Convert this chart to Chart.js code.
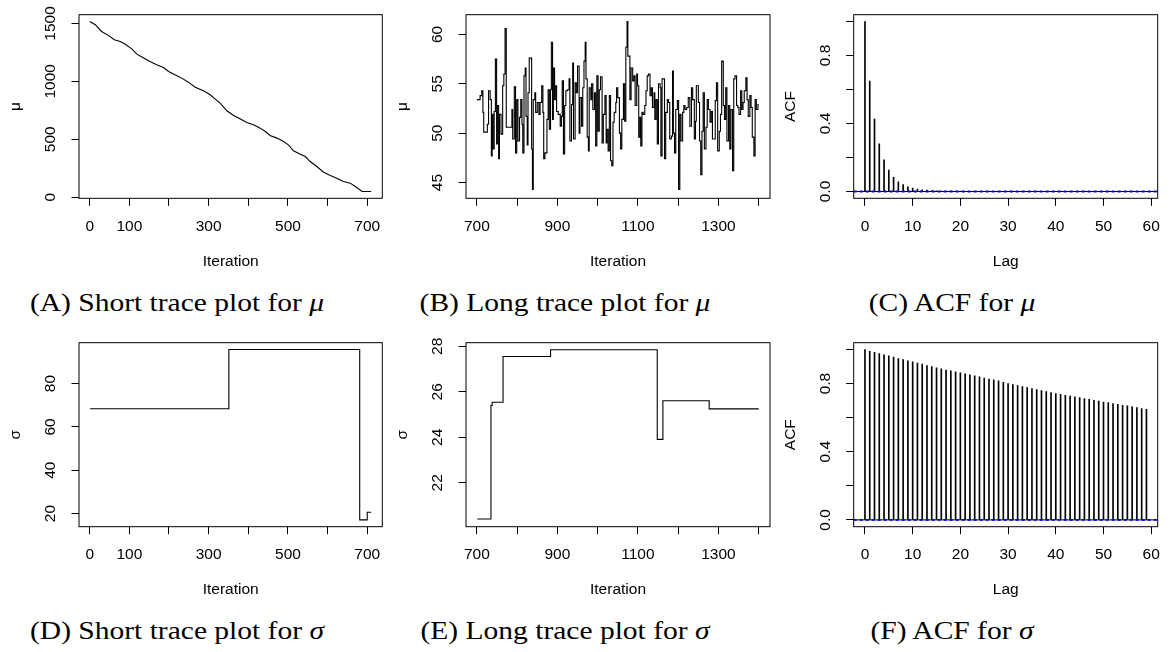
<!DOCTYPE html>
<html><head><meta charset="utf-8">
<script src="https://cdn.jsdelivr.net/npm/chart.js@4.4.1/dist/chart.umd.min.js"></script>
<style>
html,body{margin:0;padding:0;background:#fff;}
#wrap{position:relative;width:1170px;height:652px;overflow:hidden;background:#fff;}
canvas{position:absolute;}
.cap{position:absolute;font-family:"Liberation Serif","Times New Roman",serif;font-size:25px;line-height:1;white-space:nowrap;color:#000;transform:translate(-50%,-50%) scaleX(1.18);}
</style></head><body><div id="wrap"></div>
<script>
// ---------------- data ----------------
const muShortIter = [0,14,30,47,62,77,89,106,119,136,152,169,186,199,215,232,249,266,287,304,316,329,346,363,379,396,413,430,443,455,472,489,501,514,531,544,556,573,590,607,623,640,657,670,687,710];
const muShortVal  = [1517,1489,1431,1397,1359,1345,1322,1281,1235,1201,1172,1143,1120,1086,1057,1028,993,950,919,884,849,812,746,705,677,645,625,596,567,533,510,481,452,400,371,351,308,265,216,187,164,135,121,92,49,49];

const muLongIter = [
700,708,712,715,717,726,729,733,736,738,
740,743,746,749,751,754,756,760,764,767,
770,773,787,789,793,796,799,802,806,809,
812,814,817,820,822,825,827,830,836,838,
840,844,846,850,854,857,861,864,866,869,
874,877,880,883,885,888,890,893,896,898,
902,907,910,912,915,918,921,925,929,931,
935,938,940,944,947,950,954,956,960,963,
966,969,971,974,977,979,983,985,988,992,
995,998,1001,1004,1007,1011,1014,1018,1021,1023,
1026,1029,1032,1035,1038,1041,1045,1047,1050,1054,
1057,1060,1064,1067,1070,1073,1075,1080,1083,1087,
1090,1093,1097,1099,1102,1105,1107,1110,1113,1117,
1120,1123,1126,1130,1133,1136,1140,1142,1145,1148,
1151,1155,1157,1160,1166,1169,1173,1176,1179,1183,
1186,1188,1191,1194,1198,1201,1204,1207,1211,1214,
1217,1221,1225,1229,1233,1236,1240,1243,1245,1250,
1253,1256,1259,1262,1265,1269,1272,1275,1279,1282,
1285,1292,1295,1298,1302,1305,1308,1312,1315,1318,
1321,1325,1328,1331,1335,1338,1341,1345,1348,1351,
1355,1358,1361,1364,1368,1371,1374,1378,1381,1384,
1388,1391,1394,1398,1400];
const muLongVal = [
53.4,53.8,54.3,52.1,50.1,50.9,54.3,53.4,47.7,51.9,
48.4,52.2,57.5,48.9,52.8,47.4,51.9,49.9,54.8,56.0,
60.6,50.6,52.4,49.4,54.7,48.0,53.4,49.2,51.6,53.4,
50.9,48.0,55.8,56.6,51.7,48.8,54.1,57.6,48.4,44.3,
53.4,54.1,52.1,53.1,51.9,53.1,54.8,52.1,47.4,48.0,
51.4,54.4,50.4,54.4,59.2,51.4,56.6,53.4,54.8,52.2,
51.9,50.7,51.7,55.3,47.9,52.8,54.3,54.4,55.5,49.2,
52.9,57.1,49.4,55.1,54.1,56.8,50.0,53.6,50.7,54.6,
57.3,59.2,55.5,49.6,48.2,54.6,53.4,55.0,52.4,54.1,
48.7,55.8,50.2,54.4,55.7,49.0,51.9,53.8,49.0,50.4,
48.2,53.8,47.2,46.7,51.1,52.1,53.1,54.6,53.6,50.0,
48.4,51.4,55.0,51.2,58.7,61.3,57.8,53.4,56.6,55.3,
55.8,52.8,56.0,54.8,49.6,51.6,48.7,52.1,51.9,52.8,
54.3,55.8,56.0,53.8,54.6,52.6,54.1,51.4,53.4,48.9,
55.0,54.6,47.7,55.5,47.4,52.1,53.4,53.1,49.4,49.7,
56.3,50.0,48.0,52.4,53.3,44.3,51.9,49.2,52.1,52.8,
52.4,52.6,53.6,50.7,54.6,53.4,49.4,51.2,54.8,53.1,
49.2,45.8,50.2,54.1,48.4,50.6,53.4,52.4,51.1,52.2,
49.4,53.3,55.1,48.2,50.2,51.9,57.3,52.8,51.4,54.6,
49.2,52.8,48.4,52.4,46.2,55.5,55.8,52.8,52.6,51.9,
54.3,52.4,53.1,54.3,55.6,53.4,51.7,53.8,52.6,49.6,
47.7,53.4,52.4,52.9,52.9];

const acfLags = [0,1,2,3,4,5,6,7,8,9,10,11,12,13,14,15,16,17,18,19,20,21,22,23,24,25,26,27,28,29,30,31,32,33,34,35,36,37,38,39,40,41,42,43,44,45,46,47,48,49,50,51,52,53,54,55,56,57,58,59];
const acfMu = [1.000,0.650,0.426,0.281,0.187,0.126,0.084,0.057,0.041,0.028,
0.020,0.014,0.010,0.008,0.006,0.004,0.003,0.002,0.001,0.001,
0.001,0.000,0.000,0.000,0.000,0.000,0.000,0.000,0.000,0.000,
0.000,0.000,0.000,0.000,0.000,0.000,0.000,0.000,0.000,0.000,
0.000,0.000,0.000,0.000,0.000,0.000,0.000,0.000,0.000,0.000,
0.000,0.000,0.000,0.000,0.000,0.000,0.000,0.000,0.000,0.000];
const acfSigma = [1.000,0.990,0.984,0.976,0.969,0.963,0.955,0.947,0.941,0.933,
0.927,0.920,0.914,0.906,0.900,0.892,0.886,0.880,0.875,0.869,
0.863,0.857,0.851,0.845,0.839,0.833,0.827,0.822,0.816,0.808,
0.800,0.794,0.788,0.782,0.776,0.771,0.765,0.759,0.753,0.747,
0.741,0.737,0.731,0.727,0.722,0.718,0.712,0.708,0.702,0.698,
0.692,0.688,0.682,0.678,0.673,0.669,0.663,0.659,0.653,0.649];
const acfCI = 0.002;

const sigmaShortIter = [1,351,681,700,710];
const sigmaShortVal  = [68.4,95.7,17.1,20.6,20.6];
const sigmaLongIter  = [701,735,738,765,883,1148,1162,1277,1400];
const sigmaLongVal   = [20.41,25.40,25.54,27.55,27.85,23.91,25.61,25.25,25.25];

// ticks / labels
const shortIterTicks  = [0,100,200,300,400,500,600,700];
const shortIterLabels = ['0','100','','300','','500','','700'];
const longIterTicks   = [700,800,900,1000,1100,1200,1300,1400];
const longIterLabels  = ['700','','900','','1100','','1300',''];
const lagTicks  = [0,10,20,30,40,50,60];
const lagLabels = ['0','10','20','30','40','50','60'];
const muShortTicks  = [0,500,1000,1500];
const muShortLabels = ['0','500','1000','1500'];
const muLongTicks   = [45,50,55,60];
const muLongLabels  = ['45','50','55','60'];
const acfTicks  = [0,0.2,0.4,0.6,0.8,1.0];
const acfLabels = ['0.0','','0.4','','0.8',''];
const sigShortTicks  = [20,40,60,80];
const sigShortLabels = ['20','40','60','80'];
const sigLongTicks   = [22,24,26,28];
const sigLongLabels  = ['22','24','26','28'];

const captions = [
  {html:'(A) Short trace plot for <i>μ</i>', x:176.7, y:302.2},
  {html:'(B) Long trace plot for <i>μ</i>',  x:565,   y:302.2},
  {html:'(C) ACF for <i>μ</i>',              x:951.7, y:302.2},
  {html:'(D) Short trace plot for <i>σ</i>', x:176.7, y:630.2},
  {html:'(E) Long trace plot for <i>σ</i>',  x:565,   y:630.2},
  {html:'(F) ACF for <i>σ</i>',              x:951.7, y:630.2}
];

// ---------------- rendering ----------------
const wrap = document.getElementById('wrap');
const FONT = '"Liberation Sans", Arial, Helvetica, sans-serif';
const FS = 15.5, LH = FS * 1.2, TL = 7.5;
const mctx = document.createElement('canvas').getContext('2d');
mctx.font = FS + 'px ' + FONT;
const measure = s => mctx.measureText(s).width;

const boxPlugin = {
  id: 'rbox',
  afterDraw(chart) {
    const {ctx, chartArea: a} = chart;
    ctx.save();
    ctx.strokeStyle = '#000';
    ctx.lineWidth = 1;
    ctx.strokeRect(a.left, a.top, a.right - a.left, a.bottom - a.top);
    ctx.restore();
  }
};

function pts(xs, ys) { return xs.map((x, i) => ({x: x, y: ys[i]})); }

function panel(o) {
  const {cl, ct, cw, ch, box} = o;
  const cv = document.createElement('canvas');
  cv.width = cw; cv.height = ch;
  cv.style.left = cl + 'px'; cv.style.top = ct + 'px';
  cv.style.width = cw + 'px'; cv.style.height = ch + 'px';
  wrap.appendChild(cv);
  const widest = Math.max(...o.yLabels.map(measure));
  const yPad = 28 - TL - widest / 2;
  const font = {family: FONT, size: FS};
  const grid = {display: true, drawOnChartArea: false, drawTicks: true, tickLength: TL, color: '#000', lineWidth: 1, offset: false};
  new Chart(cv, {
    type: 'line',
    data: {datasets: o.datasets},
    options: {
      responsive: false, animation: false, devicePixelRatio: 1, events: [],
      layout: {padding: {left: 0, top: box.t - ct, right: cl + cw - box.r, bottom: 0}},
      plugins: {legend: {display: false}, tooltip: {enabled: false}},
      scales: {
        x: {
          type: 'linear', position: 'bottom', min: o.xMin, max: o.xMax, offset: false,
          afterBuildTicks: s => { s.ticks = o.xTicks.map(v => ({value: v})); },
          afterFit: s => { s.height = ct + ch - box.b; s.paddingLeft = 0; s.paddingRight = 0; },
          ticks: {callback: (v, i) => o.xLabels[i], autoSkip: false, minRotation: 0, maxRotation: 0,
                  padding: 28 - TL - LH / 2, color: '#000', font: font},
          grid: grid,
          border: {display: false},
          title: {display: true, text: o.xTitle, color: '#000', font: font,
                  padding: {top: 0, bottom: ch - (box.b - ct) - 63 - LH / 2}}
        },
        y: {
          type: 'linear', position: 'left', min: o.yMin, max: o.yMax,
          afterBuildTicks: s => { s.ticks = o.yTicks.map(v => ({value: v})); },
          afterFit: s => { s.width = box.l - cl; s.paddingTop = 0; s.paddingBottom = 0; },
          ticks: {callback: (v, i) => o.yLabels[i], autoSkip: false, minRotation: 90, maxRotation: 90,
                  crossAlign: 'center', padding: yPad, color: '#000', font: font},
          grid: grid,
          border: {display: false},
          title: {display: true, text: o.yTitle, color: '#000', font: font,
                  padding: {top: box.l - cl - 63 - LH / 2, bottom: 0}}
        }
      }
    },
    plugins: [boxPlugin]
  });
}

function traceDs(xs, ys, stepped) {
  return {type: 'line', data: pts(xs, ys), borderColor: '#000', borderWidth: 1.1,
          pointRadius: 0, tension: 0, stepped: stepped, fill: false};
}
function acfDs(vals, xMin, xMax) {
  return [
    {type: 'line', data: [{x: xMin, y: acfCI}, {x: xMax, y: acfCI}], borderColor: '#0000FF', borderWidth: 1.2, borderDash: [3, 3], pointRadius: 0},
    {type: 'line', data: [{x: xMin, y: -acfCI}, {x: xMax, y: -acfCI}], borderColor: '#0000FF', borderWidth: 1.2, borderDash: [3, 3], pointRadius: 0},
    {type: 'line', data: [{x: xMin, y: 0}, {x: xMax, y: 0}], borderColor: '#000', borderWidth: 1, pointRadius: 0},
    {type: 'bar', data: pts(acfLags, vals), backgroundColor: '#000', borderWidth: 0, barThickness: 1}
  ];
}

const row1 = {ct: 0, ch: 285, t: 14.7, b: 198.3};
const row2 = {ct: 328, ch: 285, t: 342.7, b: 526.7};
const col1 = {cl: 0, cw: 390, l: 79, r: 382.3};
const col2 = {cl: 390, cw: 390, l: 466, r: 770};
const col3 = {cl: 780, cw: 390, l: 853.7, r: 1157.7};
function geo(c, r) { return {cl: c.cl, cw: c.cw, ct: r.ct, ch: r.ch, box: {l: c.l, r: c.r, t: r.t, b: r.b}}; }

// A
panel(Object.assign(geo(col1, row1), {
  xMin: -27, xMax: 738, xTicks: shortIterTicks, xLabels: shortIterLabels, xTitle: 'Iteration',
  yMin: -9.7, yMax: 1575.7, yTicks: muShortTicks, yLabels: muShortLabels, yTitle: 'μ',
  datasets: [traceDs(muShortIter, muShortVal, false)]
}));
// B
panel(Object.assign(geo(col2, row1), {
  xMin: 673, xMax: 1428, xTicks: longIterTicks, xLabels: longIterLabels, xTitle: 'Iteration',
  yMin: 43.4, yMax: 62.0, yTicks: muLongTicks, yLabels: muLongLabels, yTitle: 'μ',
  datasets: [traceDs(muLongIter, muLongVal, 'before')]
}));
// C
panel(Object.assign(geo(col3, row1), {
  xMin: -2.36, xMax: 61.36, xTicks: lagTicks, xLabels: lagLabels, xTitle: 'Lag',
  yMin: -0.04, yMax: 1.04, yTicks: acfTicks, yLabels: acfLabels, yTitle: 'ACF',
  datasets: acfDs(acfMu, -2.36, 61.36)
}));
// D
panel(Object.assign(geo(col1, row2), {
  xMin: -27, xMax: 738, xTicks: shortIterTicks, xLabels: shortIterLabels, xTitle: 'Iteration',
  yMin: 13.96, yMax: 98.84, yTicks: sigShortTicks, yLabels: sigShortLabels, yTitle: 'σ',
  datasets: [traceDs(sigmaShortIter, sigmaShortVal, 'before')]
}));
// E
panel(Object.assign(geo(col2, row2), {
  xMin: 673, xMax: 1428, xTicks: longIterTicks, xLabels: longIterLabels, xTitle: 'Iteration',
  yMin: 20.07, yMax: 28.16, yTicks: sigLongTicks, yLabels: sigLongLabels, yTitle: 'σ',
  datasets: [traceDs(sigmaLongIter, sigmaLongVal, 'before')]
}));
// F
panel(Object.assign(geo(col3, row2), {
  xMin: -2.36, xMax: 61.36, xTicks: lagTicks, xLabels: lagLabels, xTitle: 'Lag',
  yMin: -0.04, yMax: 1.04, yTicks: acfTicks, yLabels: acfLabels, yTitle: 'ACF',
  datasets: acfDs(acfSigma, -2.36, 61.36)
}));

captions.forEach(c => {
  const d = document.createElement('div');
  d.className = 'cap';
  d.innerHTML = c.html;
  d.style.left = c.x + 'px';
  d.style.top = c.y + 'px';
  wrap.appendChild(d);
});
</script>
</body></html>
